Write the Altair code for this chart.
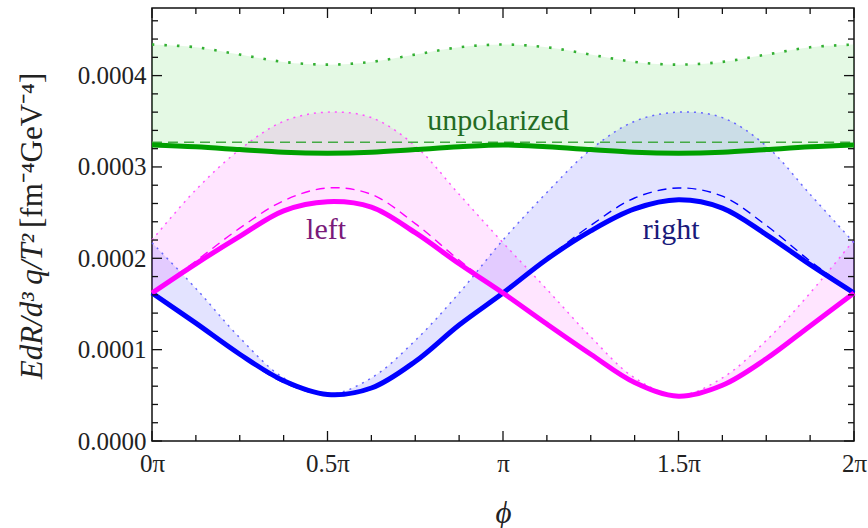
import altair as alt
import pandas as pd
import numpy as np

# azimuthal angle phi in units of pi
phi = [i / 8 for i in range(17)]

# rates in units of 1e-4 fm^-4 GeV^-4
left_solid = [1.62, 1.94, 2.24, 2.52, 2.62, 2.56, 2.28, 1.94, 1.62, 1.28, 0.95, 0.64, 0.49, 0.61, 0.90, 1.26, 1.62]
left_dash = [1.62, 1.97, 2.33, 2.63, 2.77, 2.70, 2.38, 1.98, 1.62, 1.28, 0.94, 0.63, 0.49, 0.60, 0.89, 1.25, 1.62]
left_dot = [2.20, 2.75, 3.19, 3.50, 3.60, 3.54, 3.23, 2.70, 2.17, 1.66, 1.14, 0.69, 0.50, 0.69, 1.10, 1.62, 2.20]

right_solid = [1.62, 1.29, 0.95, 0.66, 0.51, 0.58, 0.87, 1.27, 1.62, 1.99, 2.30, 2.54, 2.64, 2.55, 2.26, 1.93, 1.62]
right_dash = [1.62, 1.28, 0.94, 0.64, 0.50, 0.57, 0.86, 1.27, 1.62, 2.00, 2.36, 2.66, 2.77, 2.68, 2.36, 1.97, 1.62]
right_dot = [2.17, 1.67, 1.13, 0.69, 0.51, 0.69, 1.10, 1.62, 2.20, 2.72, 3.19, 3.50, 3.60, 3.54, 3.23, 2.70, 2.17]

unpol_solid = [3.24, 3.22, 3.19, 3.16, 3.15, 3.16, 3.19, 3.22, 3.24, 3.22, 3.19, 3.16, 3.15, 3.16, 3.19, 3.22, 3.24]
unpol_dash = [3.27] * 17
unpol_dot = [4.34, 4.31, 4.23, 4.15, 4.12, 4.15, 4.23, 4.31, 4.34, 4.31, 4.23, 4.15, 4.12, 4.15, 4.23, 4.31, 4.34]

labels = ["unpolarized", "left", "right"]
label_phi = [0.986, 0.496, 1.479]
label_val = [3.50, 2.31, 2.31]
label_color = ["#236b23", "#7a1a7a", "#1a1a7a"]

x_major = [0, 0.5, 1, 1.5, 2]
y_major = [0, 1, 2, 3, 4]

U = 1e-4
df = pd.DataFrame({
    "phi": phi,
    "Ls": np.array(left_solid) * U, "Ld": np.array(left_dash) * U, "Lo": np.array(left_dot) * U,
    "Rs": np.array(right_solid) * U, "Rd": np.array(right_dash) * U, "Ro": np.array(right_dot) * U,
    "Us": np.array(unpol_solid) * U, "Ud": np.array(unpol_dash) * U, "Uo": np.array(unpol_dot) * U,
})

W, H = 702, 433
YMAX = 0.000474
FONT = "Liberation Serif"
INTERP = "catmull-rom"

xscale = alt.Scale(domain=[0, 2], nice=False, zero=False)
yscale = alt.Scale(domain=[0, YMAX], nice=False)

xaxis = alt.Axis(values=x_major, labelExpr="datum.value == 0 ? '0π' : (datum.value == 1 ? 'π' : datum.value + 'π')",
                 ticks=False, domain=False, grid=False, labelFont=FONT, labelFontSize=25, labelColor="#222",
                 labelPadding=10, labelFlush=False, title="ϕ", titleFont=FONT, titleFontSize=31,
                 titleFontStyle="italic", titleFontWeight="normal", titleColor="#222", titleY=72,
                 titleBaseline="middle")
yaxis = alt.Axis(values=[v * U for v in y_major], format=".4f", ticks=False, domain=False, grid=False,
                 labelFont=FONT, labelFontSize=25, labelColor="#222", labelPadding=6, title="")


def XE(col):
    return alt.X(f"{col}:Q", scale=xscale, axis=xaxis)


def Y(col):
    return alt.Y(f"{col}:Q", scale=yscale, axis=yaxis)


base = alt.Chart(df)


def band(lo, hi, color, op):
    return base.mark_area(color=color, opacity=op, interpolate=INTERP).encode(
        x=XE("phi"), y=Y(lo), y2=alt.Y2(f"{hi}:Q"))


def line(col, color, width, dash=None, op=1.0):
    kw = dict(color=color, strokeWidth=width, interpolate=INTERP, opacity=op)
    if dash is not None:
        kw["strokeDash"] = dash
    return base.mark_line(**kw).encode(x=XE("phi"), y=Y(col))


layers = [
    band("Us", "Uo", "#22cc22", 0.12),
    band("Ls", "Lo", "#ff00ff", 0.10),
    band("Rs", "Ro", "#0000ff", 0.11),
    line("Uo", "#33b033", 2.6, [2.5, 10]),
    line("Lo", "#ff55ff", 1.5, [2, 5]),
    line("Ro", "#6666ff", 1.5, [2, 5]),
    line("Ud", "#44aa44", 1.4, [10, 6]),
    line("Ld", "#ff00ff", 1.4, [9, 6]),
    line("Rd", "#0000ff", 1.4, [9, 6]),
    line("Us", "#00a000", 5),
    line("Rs", "#0000ff", 5),
    line("Ls", "#ff00ff", 5),
]

lab_df = pd.DataFrame({"label": labels, "lx": label_phi, "ly": np.array(label_val) * U, "lc": label_color})
layers.append(alt.Chart(lab_df).mark_text(font=FONT, fontSize=30, baseline="middle", align="center").encode(
    x=XE("lx"), y=Y("ly"), text="label:N", color=alt.Color("lc:N", scale=None)))

# inward frame ticks
x_all = [i / 8 for i in range(17)]
x_minor = [v for v in x_all if v not in x_major]
y_all = [round(i * 0.2, 1) for i in range(24)]
y_minor = [v for v in y_all if v not in y_major]


def xticks(vals, length):
    d = pd.DataFrame({"t": vals})
    bot = alt.Chart(d).mark_rule(color="#111", strokeWidth=1.3).encode(x=XE("t"), y=alt.value(H), y2=alt.value(H - length))
    top = alt.Chart(d).mark_rule(color="#111", strokeWidth=1.3).encode(x=XE("t"), y=alt.value(0), y2=alt.value(length))
    return [bot, top]


def yticks(vals, length):
    d = pd.DataFrame({"t": [v * U for v in vals]})
    lft = alt.Chart(d).mark_rule(color="#111", strokeWidth=1.3).encode(y=Y("t"), x=alt.value(0), x2=alt.value(length))
    rgt = alt.Chart(d).mark_rule(color="#111", strokeWidth=1.3).encode(y=Y("t"), x=alt.value(W), x2=alt.value(W - length))
    return [lft, rgt]


layers += xticks(x_major, 10) + xticks(x_minor, 6) + yticks(y_major, 10) + yticks(y_minor, 6)

# y-axis title: italic part and upright unit part
one = pd.DataFrame({"a": [0]})
layers.append(alt.Chart(one).mark_text(font=FONT, fontSize=31, fontStyle="italic", angle=270, align="right",
                                       baseline="middle", color="#222", text="EdR/d³ q/T²").encode(
    x=alt.value(-119), y=alt.value(226)))
layers.append(alt.Chart(one).mark_text(font=FONT, fontSize=31, angle=270, align="left",
                                       baseline="middle", color="#222", text="[fm⁻⁴GeV⁻⁴]").encode(
    x=alt.value(-119), y=alt.value(220)))

chart = alt.layer(*layers).properties(
    width=W, height=H,
    autosize=alt.AutoSizeParams(type="none"),
    padding={"left": 152, "top": 8, "right": 14, "bottom": 87},
    background="white",
).configure_view(stroke="#111", strokeWidth=1.5)

chart.save("out.html", embed_options={"renderer": "svg", "actions": False})
